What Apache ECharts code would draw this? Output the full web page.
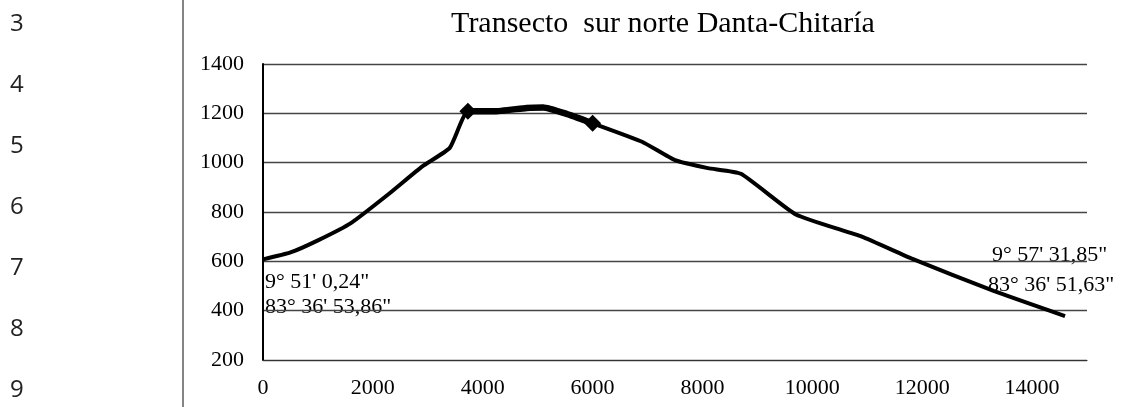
<!DOCTYPE html>
<html>
<head>
<meta charset="utf-8">
<script src="https://cdn.jsdelivr.net/npm/echarts@6/dist/echarts.min.js"></script>
<style>
html,body{margin:0;padding:0;background:#fff;}
#chart{width:1125px;height:407px;}
</style>
</head>
<body>
<div id="chart"></div>
<script>
// Data
const titleText = 'Transecto  sur norte Danta-Chitaría';
const distance = [0, 500, 1000, 1600, 2300, 2900, 3400, 3730, 4200, 4800, 5100, 5500, 6000, 6900, 7500, 8100, 8700, 9700, 10900, 11800, 13300, 14600];
const elevation = [608, 636, 685, 755, 875, 985, 1060, 1208, 1208, 1222, 1224, 1200, 1160, 1085, 1010, 978, 955, 790, 700, 612, 480, 378];
const markerDistance = [3730, 6000];
const markerElevation = [1208, 1160];
const startLabel = ['9° 51\' 0,24"', '83° 36\' 53,86"'];
const endLabel = ['9° 57\' 31,85"', '83° 36\' 51,63"'];
const rowNumbers = ['3', '4', '5', '6', '7', '8', '9'];
const yTicks = [200, 400, 600, 800, 1000, 1200, 1400];
const xTicks = [0, 2000, 4000, 6000, 8000, 10000, 12000, 14000];

const serif = '"Liberation Serif", "DejaVu Serif", serif';
const mainData = distance.map((d, i) => [d, elevation[i]]);
const segData = mainData.filter(p => p[0] >= markerDistance[0] && p[0] <= markerDistance[1]);
const markData = markerDistance.map((d, i) => [d, markerElevation[i]]);

const chart = echarts.init(document.getElementById('chart'), null, {renderer: 'canvas'});

const rowGraphics = rowNumbers.map((t, i) => ({
  type: 'text', left: 10, top: 12 + i * 61,
  style: {text: t, font: '24px "Open Sans", "Noto Sans", sans-serif', fill: '#222'}
}));

chart.setOption({
  animation: false,
  backgroundColor: '#fff',
  title: {
    text: titleText, left: 658, top: 4, textAlign: 'center',
    textStyle: {fontFamily: serif, fontSize: 30, fontWeight: 'normal', color: '#000'}
  },
  grid: {left: 263, right: 38, top: 64, bottom: 47, containLabel: false},
  xAxis: {
    type: 'value', min: 0, max: 15000, interval: 2000,
    axisLine: {show: true, lineStyle: {color: '#333', width: 1.2}},
    axisTick: {show: false},
    splitLine: {show: false},
    axisLabel: {
      margin: 17, fontFamily: serif, fontSize: 22, color: '#000',
      formatter: v => (xTicks.indexOf(v) >= 0 ? String(v) : '')
    }
  },
  yAxis: {
    type: 'value', min: 200, max: 1400, interval: 200,
    axisLine: {show: true, lineStyle: {color: '#000', width: 2}},
    axisTick: {show: false},
    splitLine: {show: true, lineStyle: {color: '#444', width: 1.3}},
    axisLabel: {
      margin: 19, fontFamily: serif, fontSize: 22, color: '#000',
      formatter: v => (yTicks.indexOf(v) >= 0 ? String(v) : '')
    }
  },
  series: [
    {
      type: 'line', data: mainData, symbol: 'none', smooth: 0.15,
      lineStyle: {color: '#000', width: 4}, z: 3
    },
    {
      type: 'line', data: segData, symbol: 'none', smooth: 0.15,
      lineStyle: {color: '#000', width: 6.5}, z: 4
    },
    {
      type: 'scatter', data: markData, symbol: 'diamond', symbolSize: 17,
      itemStyle: {color: '#000', opacity: 1}, z: 5
    }
  ],
  graphic: [
    {type: 'line', shape: {x1: 183, y1: 0, x2: 183, y2: 407}, style: {stroke: '#333', lineWidth: 1.2}},
    ...rowGraphics,
    {type: 'text', left: 265, top: 271, style: {text: startLabel[0], font: '22px ' + serif, fill: '#000'}},
    {type: 'text', left: 265, top: 296, style: {text: startLabel[1], font: '22px ' + serif, fill: '#000'}},
    {type: 'text', left: 992, top: 244, style: {text: endLabel[0], font: '22px ' + serif, fill: '#000'}},
    {type: 'text', left: 988, top: 274, style: {text: endLabel[1], font: '22px ' + serif, fill: '#000'}}
  ]
});
</script>
</body>
</html>
